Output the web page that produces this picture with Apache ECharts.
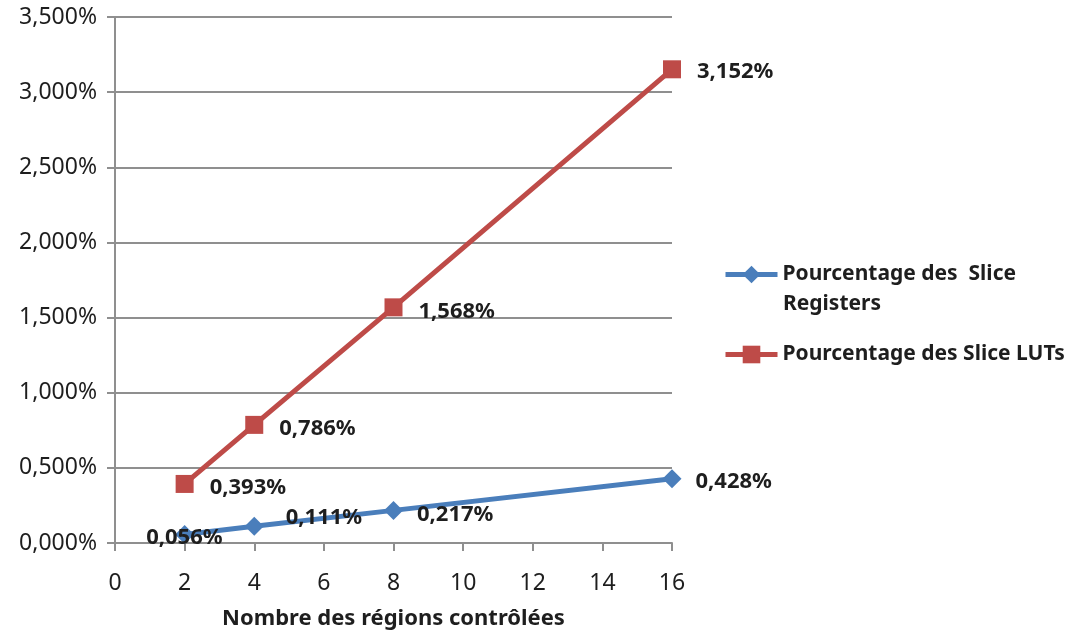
<!DOCTYPE html>
<html>
<head>
<meta charset="utf-8">
<script src="https://cdn.jsdelivr.net/npm/echarts@6/dist/echarts.min.js"></script>
<style>
  html, body { margin: 0; padding: 0; background: #ffffff; }
  #chart { width: 1081px; height: 635px; }
</style>
</head>
<body>
<div id="chart"></div>
<script>
// Nombre de régions contrôlées (axe X)
const regions = [2, 4, 8, 16];
// Pourcentages d'utilisation (en %)
const sliceRegisters = [0.056, 0.111, 0.217, 0.428];
const sliceLUTs = [0.393, 0.786, 1.568, 3.152];

const seriesNames = ['Pourcentage des  Slice Registers', 'Pourcentage des Slice LUTs'];
const xAxisTitle = 'Nombre des régions contrôlées';

const FONT = '"Noto Sans", sans-serif';
const TEXT = '#1e1e1e';
const GRIDC = '#8f8f8f';
const BLUE = '#4a7ebb';
const RED = '#be4b48';

const fmt = v => v.toFixed(3).replace('.', ',') + '%';

// per-point label offsets
const regOffsets = [[-64, 3], [6, -9], [-2, 4], [-2, 3]];
const lutOffsets = [[0, 4], [0, 4], [0, 4], [0, 2]];

function pts(xs, ys, offs) {
  return xs.map((x, i) => ({
    value: [x, ys[i]],
    label: { offset: offs[i] }
  }));
}

const labelStyle = {
  show: true,
  position: 'right',
  distance: 16,
  fontFamily: FONT,
  fontSize: 22,
  fontWeight: 'bold',
  color: TEXT,
  formatter: p => fmt(p.value[1])
};

const legendText = { fontFamily: FONT, fontSize: 21, fontWeight: 'bold', color: TEXT };

const chart = echarts.init(document.getElementById('chart'), null, { renderer: 'canvas' });
chart.setOption({
  animation: false,
  backgroundColor: '#ffffff',
  grid: { left: 115, width: 557, top: 17, height: 530, containLabel: false },
  xAxis: {
    type: 'value',
    min: 0, max: 16, interval: 2,
    name: xAxisTitle,
    nameLocation: 'middle',
    nameGap: 65,
    nameTextStyle: { fontFamily: FONT, fontSize: 22, fontWeight: 'bold', color: TEXT },
    axisLine: { show: true, onZero: false, lineStyle: { color: GRIDC, width: 2 } },
    axisTick: { show: true, inside: false, length: 8, lineStyle: { color: GRIDC, width: 2 } },
    axisLabel: { fontFamily: FONT, fontSize: 23, color: TEXT, margin: 29 },
    splitLine: { show: false }
  },
  yAxis: {
    type: 'value',
    min: 0, max: 3.5, interval: 0.5,
    axisLine: { show: true, lineStyle: { color: GRIDC, width: 2 } },
    axisTick: { show: true, inside: false, length: 8, lineStyle: { color: GRIDC, width: 2 } },
    axisLabel: { fontFamily: FONT, fontSize: 23, color: TEXT, margin: 18, formatter: v => fmt(v) },
    splitLine: { show: true, lineStyle: { color: GRIDC, width: 2 } }
  },
  legend: [{
    data: [{ name: seriesNames[0], lineStyle: { width: 5 } }],
    orient: 'vertical',
    left: 723, top: 264,
    padding: 0,
    itemWidth: 52, itemHeight: 22,
    itemGap: 0,
    formatter: () => 'Pourcentage des  Slice',
    textStyle: legendText
  }, {
    data: [{ name: seriesNames[1], lineStyle: { width: 5 } }],
    orient: 'vertical',
    left: 723, top: 344,
    padding: 0,
    itemWidth: 52, itemHeight: 22,
    itemGap: 0,
    textStyle: legendText
  }],
  graphic: [{
    type: 'text',
    left: 783, top: 294,
    style: { text: 'Registers', font: 'bold 21px ' + FONT, fill: TEXT }
  }],
  series: [{
    name: seriesNames[0],
    type: 'line',
    data: pts(regions, sliceRegisters, regOffsets),
    symbol: 'diamond',
    symbolSize: 19,
    lineStyle: { color: BLUE, width: 5 },
    itemStyle: { color: BLUE },
    label: labelStyle,
    z: 3
  }, {
    name: seriesNames[1],
    type: 'line',
    data: pts(regions, sliceLUTs, lutOffsets),
    symbol: 'rect',
    symbolSize: 18,
    lineStyle: { color: RED, width: 5 },
    itemStyle: { color: RED },
    label: labelStyle,
    z: 4
  }]
});
</script>
</body>
</html>
